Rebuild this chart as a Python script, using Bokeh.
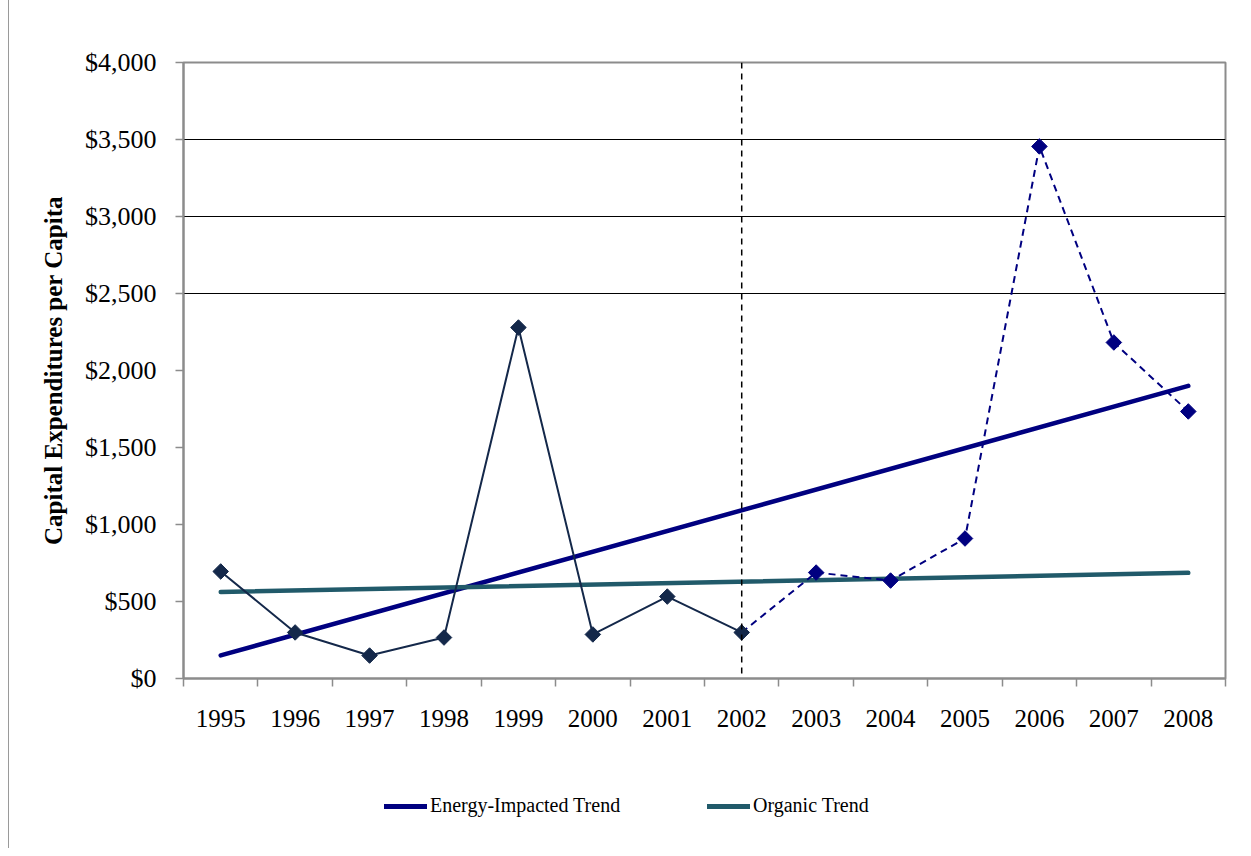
from bokeh.plotting import figure
from bokeh.layouts import column
from bokeh.models import Range1d, FixedTicker, NumeralTickFormatter, Span, Legend, LegendItem
from bokeh.embed import file_html
from bokeh.resources import INLINE
import math

# ---- data ----
years = ["1995", "1996", "1997", "1998", "1999", "2000", "2001",
         "2002", "2003", "2004", "2005", "2006", "2007", "2008"]
capex = [695, 299, 149, 266, 2279, 286, 532,
         299, 688, 636, 909, 3455, 2182, 1734]
split_year = "2002"
energy_trend_years = ["1995", "2008"]
energy_trend_vals = [150, 1900]
organic_trend_years = ["1995", "2008"]
organic_trend_vals = [562, 686]
y_ticks = [0, 500, 1000, 1500, 2000, 2500, 3000, 3500, 4000]
grid_ticks = [2500, 3000, 3500]
legend_labels = ["Energy-Impacted Trend", "Organic Trend"]

FONT = "Liberation Serif"
ENERGY_C = "#000080"
ORGANIC_C = "#215a6a"

def xpos(y):
    return years.index(y) + 0.5

p = figure(width=1234, height=760, output_backend="svg", toolbar_location=None,
           x_range=Range1d(0, len(years)), y_range=Range1d(0, 4000),
           min_border_left=174, min_border_right=18, min_border_top=62, min_border_bottom=82)
p.background_fill_color = "white"
p.border_fill_color = "white"
p.outline_line_color = "#8c8c8c"
p.outline_line_width = 2

# axes
xa = p.xaxis[0]
xa.ticker = FixedTicker(ticks=[i + 0.5 for i in range(len(years))],
                        minor_ticks=list(range(len(years) + 1)))
xa.major_label_overrides = {i + 0.5: y for i, y in enumerate(years)}
xa.major_tick_out = 0
xa.major_tick_in = 0
xa.minor_tick_out = 8
xa.minor_tick_in = 0
xa.minor_tick_line_color = "#8c8c8c"
xa.minor_tick_line_width = 1.5
xa.axis_line_color = "#8c8c8c"
xa.axis_line_width = 2
xa.major_label_standoff = 23
xa.major_label_text_font = FONT
xa.major_label_text_font_size = "25px"
xa.major_label_text_color = "black"

ya = p.yaxis[0]
ya.ticker = FixedTicker(ticks=y_ticks)
ya.formatter = NumeralTickFormatter(format="$0,0")
ya.major_tick_out = 8
ya.major_tick_in = 0
ya.minor_tick_out = 0
ya.minor_tick_in = 0
ya.major_tick_line_color = "#8c8c8c"
ya.major_tick_line_width = 1.5
ya.axis_line_color = "#8c8c8c"
ya.axis_line_width = 2
ya.major_label_standoff = 19
ya.major_label_text_font = FONT
ya.major_label_text_font_size = "26px"
ya.major_label_text_color = "black"
ya.axis_label = "Capital Expenditures per Capita"
ya.axis_label_text_font = FONT
ya.axis_label_text_font_style = "bold"
ya.axis_label_text_font_size = "25px"
ya.axis_label_text_color = "black"
ya.axis_label_standoff = 15

p.xgrid.visible = False
p.ygrid.ticker = FixedTicker(ticks=grid_ticks)
p.ygrid.grid_line_color = "black"
p.ygrid.grid_line_width = 1.2

# vertical dashed split line
p.add_layout(Span(location=xpos(split_year), dimension="height", line_color="black",
                  line_width=1.5, line_dash="6 5"))

k = years.index(split_year)
xs = [xpos(y) for y in years]

# trends
p.line([xpos(y) for y in energy_trend_years], energy_trend_vals,
       line_color=ENERGY_C, line_width=4.5, line_cap="round")
p.line([xpos(y) for y in organic_trend_years], organic_trend_vals,
       line_color=ORGANIC_C, line_width=4.5, line_cap="round")

# actual series
p.line(xs[:k + 1], capex[:k + 1], line_color="#14284a", line_width=2)
p.line(xs[k:], capex[k:], line_color=ENERGY_C, line_width=2, line_dash="7 5")
p.scatter(xs[k + 1:], capex[k + 1:], marker="square", angle=math.pi / 4, size=11,
          fill_color=ENERGY_C, line_color=ENERGY_C)
p.scatter(xs[:k + 1], capex[:k + 1], marker="square", angle=math.pi / 4, size=11,
          fill_color="#14284a", line_color="#14284a")

# legend strip (separate figure below the chart; frames are aligned by the column)
p2 = figure(width=1234, height=88, output_backend="svg", toolbar_location=None,
            x_range=Range1d(0, 1), y_range=Range1d(0, 1),
            min_border_left=0, min_border_right=0, min_border_top=0, min_border_bottom=0)
p2.axis.visible = False
p2.grid.visible = False
p2.outline_line_color = None
p2.background_fill_color = "white"
p2.border_fill_color = "white"
# legend key renderers: data placed outside the visible range, only their legend glyphs show
le = p2.line([-5, -4], [-5, -5], line_color=ENERGY_C, line_width=5, line_cap="round")
lo = p2.line([-5, -4], [-5, -5], line_color=ORGANIC_C, line_width=5, line_cap="round")

def mk_legend(label, rend, x):
    lg = Legend(items=[LegendItem(label=label, renderers=[rend])],
                location=(x, 31), orientation="horizontal",
                border_line_color=None, background_fill_alpha=0,
                padding=0, margin=0, glyph_width=43, glyph_height=20,
                label_standoff=3, label_text_font=FONT, label_text_font_size="20px",
                label_text_color="black", label_height=20)
    p2.add_layout(lg, "center")

mk_legend(legend_labels[0], le, 201)
mk_legend(legend_labels[1], lo, 524)

layout = column(p, p2, spacing=0)
layout.styles = {"margin-left": "8px", "border-left": "1px solid #9a9a9a"}

open("out.html", "w").write(file_html(layout, INLINE))
